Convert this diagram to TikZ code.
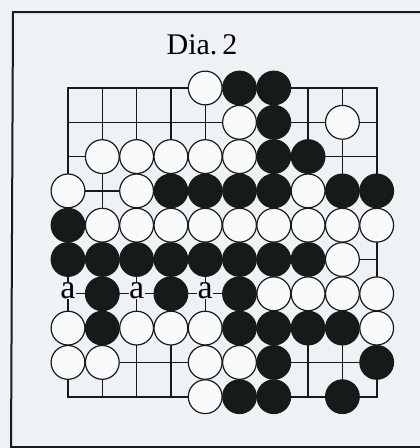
\documentclass[tikz,border=0pt]{standalone}
\usepackage{fontspec}
\setmainfont{Liberation Serif}
\definecolor{paper}{HTML}{EEF2F5}
\definecolor{ink}{HTML}{161A18}
\begin{document}
\begin{tikzpicture}[x=1pt,y=-1pt,
  gridline/.style={ink,line width=1.3pt},
  edgeline/.style={ink,line width=2.4pt,line cap=rect},
  framel/.style={ink,line width=2pt},
  bstone/.style={circle,draw=ink,fill=ink,line width=1pt,minimum size=33.8pt,inner sep=0pt},
  wstone/.style={circle,draw=ink,fill=white!60!paper,line width=1.2pt,minimum size=33.8pt,inner sep=0pt},
  lbl/.style={fill=paper,inner sep=0.5pt,font=\fontsize{34}{34}\selectfont},
]
\useasboundingbox (0,0) rectangle (420,448);
\fill[paper] (-6,-6) rectangle (426,454);
% frame
\draw[framel] (426,12) -- (13,12) -- (11,454);
\draw[framel] (11,446.5) -- (426,446.5);
% title
\node[font=\fontsize{30}{30}\selectfont] (title) at (202,45) {Dia.\,2};
% grid
\def\xo{68}\def\yo{88}\def\dd{34.3}
\foreach \i in {1,...,8}{
  \draw[gridline] (\xo+\i*\dd,\yo) -- (\xo+\i*\dd,\yo+9*\dd);
  \draw[gridline] (\xo,\yo+\i*\dd) -- (\xo+9*\dd,\yo+\i*\dd);
}
\draw[edgeline] (\xo,\yo) rectangle (\xo+9*\dd,\yo+9*\dd);
% black stones
\foreach \c/\r in {5/0,6/0,6/1,6/2,7/2,3/3,4/3,5/3,6/3,8/3,9/3,0/4,
  0/5,1/5,2/5,3/5,4/5,5/5,6/5,7/5,1/6,3/6,5/6,1/7,5/7,6/7,7/7,8/7,6/8,9/8,5/9,6/9,8/9}
  \node[bstone] (b-\c-\r) at (\xo+\c*\dd,\yo+\r*\dd) {};
% white stones
\foreach \c/\r in {4/0,5/1,8/1,1/2,2/2,3/2,4/2,5/2,0/3,2/3,7/3,
  1/4,2/4,3/4,4/4,5/4,6/4,7/4,8/4,9/4,8/5,6/6,7/6,8/6,9/6,
  0/7,2/7,3/7,4/7,9/7,0/8,1/8,4/8,5/8,4/9}
  \node[wstone] (w-\c-\r) at (\xo+\c*\dd,\yo+\r*\dd) {};
% labels
\foreach \c in {0,2,4}
  \node[lbl] (a-\c) at (\xo+\c*\dd,\yo+6*\dd-3.5) {a};
\end{tikzpicture}
\end{document}
